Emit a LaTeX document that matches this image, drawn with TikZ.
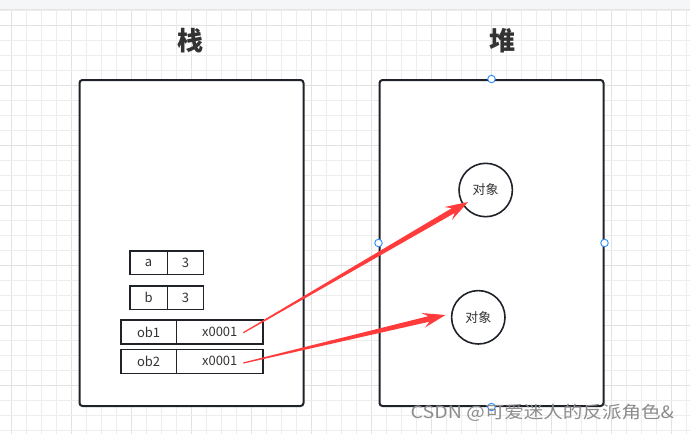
\documentclass[tikz,border=0pt]{standalone}
\usepackage{fontspec}
\setmainfont{Noto Sans CJK SC}
\usetikzlibrary{calc}
\definecolor{gridminor}{HTML}{EDEDED}
\definecolor{gridmajor}{HTML}{E2E2E2}
\definecolor{strip}{HTML}{F5F6F8}
\definecolor{stripline}{HTML}{E3E4E6}
\definecolor{ink}{HTML}{1F2329}
\definecolor{txt}{HTML}{333333}
\definecolor{arrowred}{HTML}{FF3B3B}
\definecolor{handle}{HTML}{2B8CFF}
\definecolor{mark}{HTML}{8C8C8C}
\tikzset{
  bigbox/.style={draw=ink, line width=2pt, fill=white, rounded corners=3pt, inner sep=0pt, anchor=north west},
  cell/.style={draw=ink, line width=1.5pt, fill=white, inner sep=0pt, minimum height=23.5pt, anchor=north west, text=txt, font=\fontsize{13}{13}\selectfont},
  objcircle/.style={draw=ink, line width=1.6pt, fill=white, circle, minimum size=53.4pt, inner sep=0pt, text=txt, font=\fontsize{13}{13}\selectfont},
  title/.style={text=txt, font=\fontsize{26}{26}\selectfont\bfseries},
  handlept/.style={draw=handle, fill=white, line width=0.9pt, circle, minimum size=7.5pt, inner sep=0pt},
  watermark/.style={text=mark, font=\fontsize{17}{17}\selectfont, anchor=west, inner sep=0pt}
}
\begin{document}
\begin{tikzpicture}[x=1pt,y=-1pt]
\useasboundingbox (0,0) rectangle (690,434);
\fill[white] (0,0) rectangle (690,434);
% grid
\foreach \i in {0,...,45} {
  \pgfmathtruncatemacro\m{mod(\i,4)}
  \ifnum\m=0 \draw[gridmajor, line width=1pt] ({11.7+15*\i},10) -- ({11.7+15*\i},434);
  \else \draw[gridminor, line width=1pt] ({11.7+15*\i},10) -- ({11.7+15*\i},434); \fi
}
\foreach \j in {0,...,28} {
  \pgfmathtruncatemacro\m{mod(\j+3,4)}
  \ifnum\m=0 \draw[gridmajor, line width=1pt] (0,{10+15*\j}) -- (690,{10+15*\j});
  \else \draw[gridminor, line width=1pt] (0,{10+15*\j}) -- (690,{10+15*\j}); \fi
}
% top strip
\fill[strip] (0,0) rectangle (690,9.5);
\draw[stripline, line width=1pt] (0,9.5) -- (690,9.5);

% titles
\node[title] (stacktitle) at (190.5,41) {栈};
\node[title] (heaptitle) at (502,41) {堆};

% big boxes
\node[bigbox, minimum width=224pt, minimum height=326pt] (stack) at (78.5,79) {};
\node[bigbox, minimum width=224pt, minimum height=326pt] (heap) at (378.5,79) {};

% heap handles
\node[handlept] (hn) at (heap.north) {};
\node[handlept] (hs) at (heap.south) {};
\node[handlept] (hw) at (heap.west) {};
\node[handlept] (he) at (heap.east) {};

% cells
\node[cell, minimum width=37.7pt] (a) at (129,250) {a};
\node[cell, minimum width=36pt] (av) at (166.7,250) {3};
\node[cell, minimum width=37.7pt] (b) at (129,285.3) {b};
\node[cell, minimum width=36pt] (bv) at (166.7,285.3) {3};
\node[cell, minimum width=55.7pt, minimum height=24pt] (ob1) at (120,319.3) {ob1};
\node[cell, minimum width=86.6pt, minimum height=24pt] (ob1v) at (175.7,319.3) {x0001};
\node[cell, minimum width=55.7pt, minimum height=24pt] (ob2) at (120,348.5) {ob2};
\node[cell, minimum width=86.6pt, minimum height=24pt] (ob2v) at (175.7,348.5) {x0001};

% objects
\node[objcircle] (o1) at (485.7,190) {对象};
\node[objcircle] (o2) at (478.3,317.3) {对象};

% tapered arrows
\coordinate (s1) at (243.3,332.7);
\coordinate (t1) at (468,202);
\coordinate (s2) at (243.3,363);
\coordinate (t2) at (445.5,315);
\foreach \s/\t in {s1/t1, s2/t2} {
  \coordinate (n) at ($(\t)!17pt!(\s)$);
  \coordinate (bb) at ($(\t)!23pt!(\s)$);
  \fill[arrowred]
    ($(\s)!0.6pt!90:(\t)$) --
    ($(n)!2.8pt!90:(\t)$) --
    ($(bb)!7.5pt!90:(\t)$) --
    (\t) --
    ($(bb)!7.5pt!-90:(\t)$) --
    ($(n)!2.8pt!-90:(\t)$) --
    ($(\s)!0.6pt!-90:(\t)$) -- cycle;
}

% watermark
\node[watermark] (wm) at (410.5,413) {\scalebox{1.15}[1]{CSDN @可爱迷人的反派角色\&}};
\end{tikzpicture}
\end{document}
